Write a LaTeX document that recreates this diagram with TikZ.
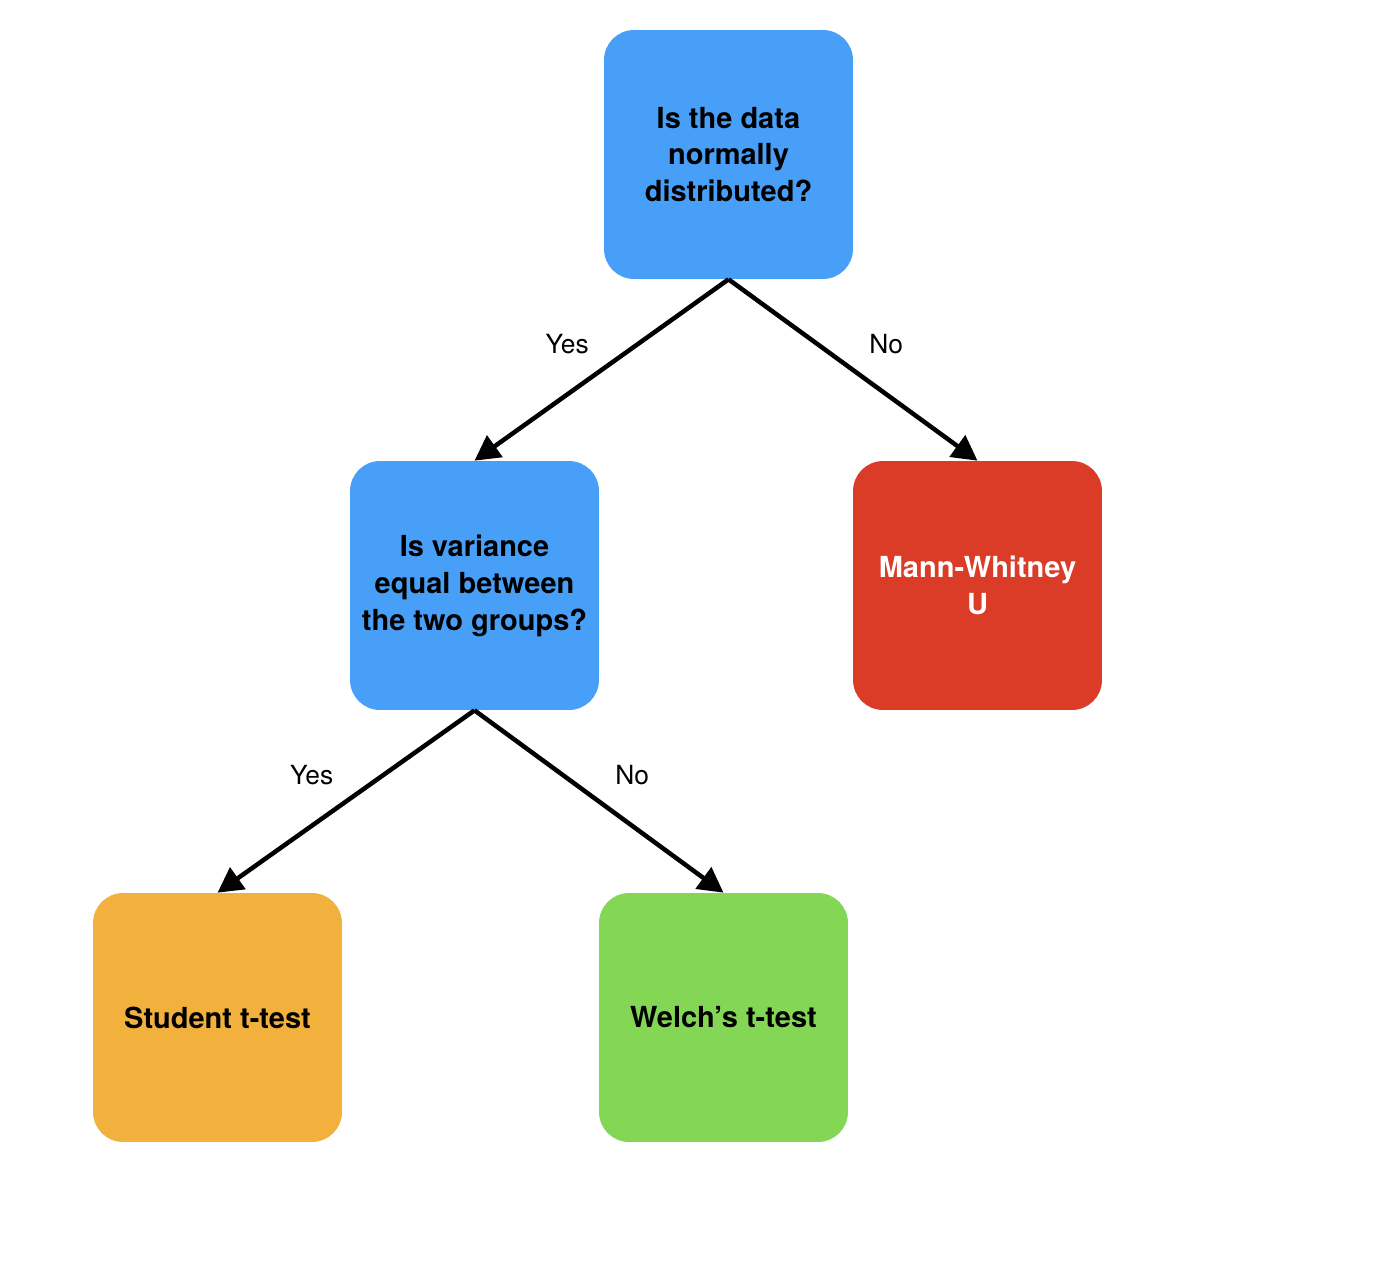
\documentclass[tikz,border=0pt]{standalone}
\usepackage{fontspec}
\setmainfont{TeX Gyre Heros}
\usetikzlibrary{arrows.meta,positioning}
\definecolor{AskBlue}{RGB}{72,159,247}
\definecolor{MannRed}{RGB}{219,60,40}
\definecolor{StudOrange}{RGB}{241,177,60}
\definecolor{WelchGreen}{RGB}{132,214,85}

\begin{document}
\begin{tikzpicture}[x=0.02cm,y=-0.02cm,
    box/.style={rounded corners=0.6cm,minimum width=4.98cm,minimum height=4.98cm,
      align=center,font=\fontsize{16.5}{21}\selectfont\bfseries},
    flow/.style={line width=0.09cm,-{Triangle[length=0.5cm,width=0.52cm]}},
    lbl/.style={font=\fontsize{15}{18}\selectfont,inner sep=6pt}]
  \useasboundingbox (0,0) rectangle (1400,1268);
  \node[box,fill=AskBlue] (normal) at (728.5,154.5) {Is the data\\normally\\distributed?};
  \node[box,fill=AskBlue] (variance) at (474.5,585.5) {Is variance\\equal between\\the two groups?};
  \node[box,fill=MannRed,text=white] (mann) at (977.5,585.5) {Mann-Whitney\\U};
  \node[box,fill=StudOrange] (student) at (217.5,1017.5) {Student t-test};
  \node[box,fill=WelchGreen] (welch) at (723.5,1017.5) {Welch’s t-test};
  \draw[flow] (normal.south) -- node[lbl,midway,above left=2pt and 0pt] {Yes} (variance.north);
  \draw[flow] (normal.south) -- node[lbl,midway,above right=2pt and 2pt] {No} (mann.north);
  \draw[flow] (variance.south) -- node[lbl,midway,above left=2pt and 0pt] {Yes} (student.north);
  \draw[flow] (variance.south) -- node[lbl,midway,above right=2pt and 2pt] {No} (welch.north);
\end{tikzpicture}
\end{document}
